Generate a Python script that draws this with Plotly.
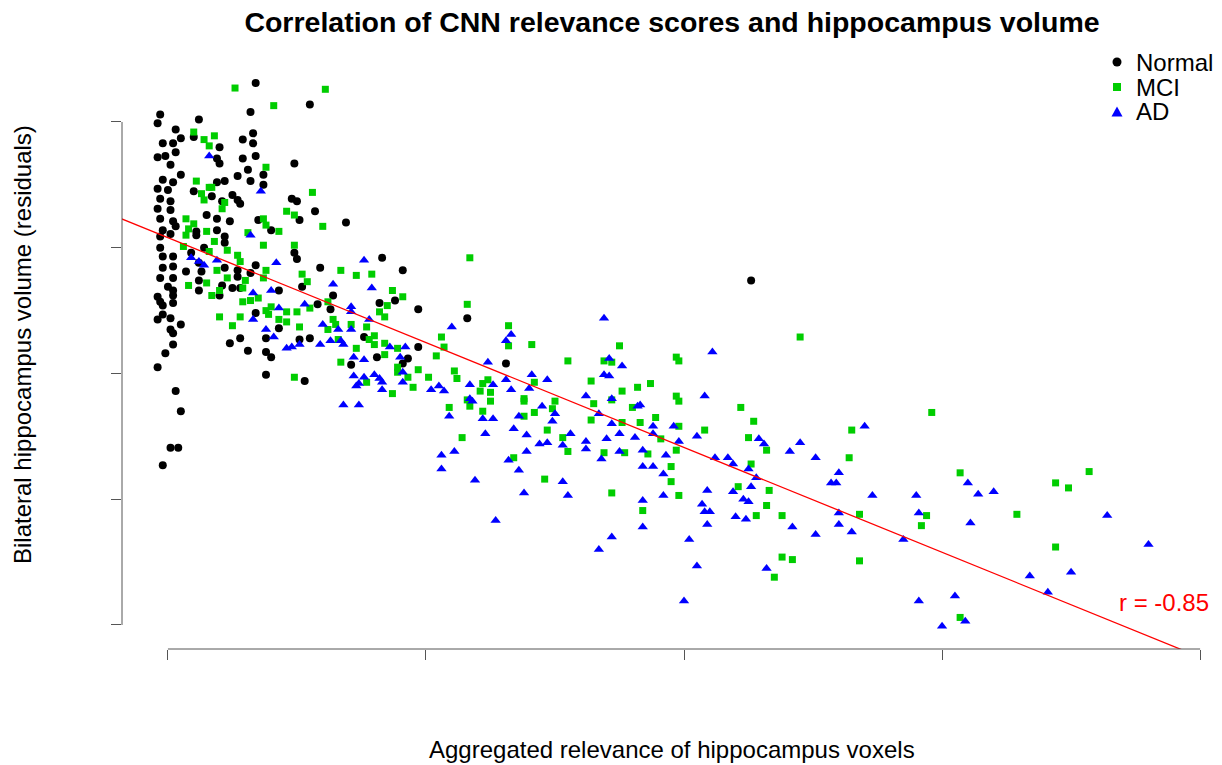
import plotly.graph_objects as go

# ---------------- data (axis units = tick spacing) ----------------
normal_x = [0.34, 0.32, -0.03, -0.04, 0.12, 0.03, 0.05, 0.02, -0.02, 0.10, 0.33, 0.29, 0.33, 0.20, 0.03, -0.01,
            -0.04, 0.01, 0.19, 0.20, 0.29, 0.34, 0.31, 0.37, 0.27, 0.32, 0.22, 0.19, -0.02, 0.02, 0.05, 0.37,
            0.10, -0.04, 0.00, -0.03, 0.01, 0.25, 0.27, 0.28, 0.17, 0.21, -0.04, 0.01, -0.03, 0.02, 0.15, 0.19,
            0.24, 0.35, 0.40, -0.02, 0.03, 0.11, 0.19,
            0.55, 0.49, 0.48, 0.50, 0.57, 0.51, 0.69,
            -0.03, 0.01, 0.11, 0.22, 0.22, -0.03, -0.02, 0.02, 0.09, 0.14, 0.12, -0.02, 0.02, 0.07, 0.13, 0.22,
            -0.03, 0.02, 0.12, 0.27, 0.27, 0.34, 0.32, 0.21, 0.25, 0.00, 0.02, 0.12, 0.20, 0.28, -0.04, 0.02,
            -0.03, 0.02, -0.02, 0.34, 0.43, 0.43, 0.01, -0.04, -0.02, 0.05, 0.01, 0.02, 0.28, 0.24, 0.38, 0.02,
            -0.01, 0.31, 0.38, 0.40, -0.04, 0.38, 0.03, 0.05, 0.01, 0.04, -0.02,
            0.49, 0.50, 0.59, 0.83, 0.91, 0.52, 0.64, 0.58, 0.63, 0.82, 0.88, 0.97, 0.51, 0.55, 0.76, 0.97,
            0.81, 0.93, 0.71, 0.91, 0.53,
            1.16, 1.31, 2.26]
normal_y = [4.31, 4.08, 4.06, 3.99, 4.02, 3.94, 3.87, 3.83, 3.83, 3.88, 3.91, 3.86, 3.83, 3.80, 3.76, 3.73,
            3.72, 3.66, 3.71, 3.67, 3.71, 3.73, 3.62, 3.58, 3.57, 3.53, 3.53, 3.52, 3.54, 3.52, 3.58, 3.50,
            3.45, 3.47, 3.46, 3.39, 3.37, 3.42, 3.38, 3.35, 3.41, 3.37, 3.31, 3.30, 3.23, 3.21, 3.26, 3.23,
            3.21, 3.22, 3.14, 3.14, 3.17, 3.13, 3.14,
            4.14, 3.67, 3.39, 3.37, 3.29, 3.22, 3.20,
            3.09, 3.11, 3.10, 3.09, 3.04, 3.00, 2.93, 2.93, 2.96, 3.00, 2.88, 2.84, 2.85, 2.81, 2.81, 2.84,
            2.76, 2.76, 2.74, 2.82, 2.77, 2.86, 2.80, 2.70, 2.68, 2.69, 2.66, 2.66, 2.62, 2.68, 2.61, 2.62,
            2.57, 2.56, 2.54, 2.48, 2.66, 2.36, 2.44, 2.43, 2.47, 2.39, 2.35, 2.32, 2.28, 2.24, 2.28, 2.23,
            2.16, 2.18, 2.17, 2.13, 2.05, 1.99, 1.86, 1.70, 1.41, 1.41, 1.27,
            2.96, 2.91, 2.84, 2.92, 2.82, 2.69, 2.62, 2.55, 2.51, 2.56, 2.58, 2.51, 2.27, 2.28, 2.29, 2.21,
            2.13, 2.12, 2.07, 2.08, 1.94,
            2.44, 2.08, 2.74]

mci_x = [0.26, 0.41, 0.10, 0.14, 0.18, 0.16, 0.38, 0.11, 0.16, 0.17, 0.13, 0.14, 0.22, 0.21, 0.46, 0.37,
         0.38, 0.43, 0.07, 0.10, 0.08, 0.15, 0.31,
         0.61, 0.56, 0.49, 0.60,
         0.07, 0.18, 0.06, 0.16, 0.23, 0.37, 0.27, 0.28, 0.19, 0.23, 0.15, 0.08, 0.30, 0.29, 0.38, 0.37,
         0.20, 0.17, 0.32, 0.29, 0.35, 0.38, 0.40, 0.39, 0.43, 0.46, 0.20, 0.28, 0.25, 0.46,
         0.49, 0.52, 0.54, 0.67, 0.73, 0.79, 0.87, 0.91, 0.85, 0.82, 0.84, 0.62, 0.55, 0.50, 0.51, 0.64,
         0.65, 0.62, 0.71, 0.77, 0.80, 0.78, 0.80, 0.66, 0.73, 0.84, 0.89, 0.84, 0.67, 0.89, 0.89, 0.97,
         0.93, 1.01, 1.04, 0.49, 0.77, 0.95, 0.87, 1.06,
         1.17, 1.16, 1.07, 1.32, 1.32, 1.41, 1.55, 1.75, 1.69, 1.72, 1.11, 1.12, 1.24, 1.22, 1.21, 1.25,
         1.25, 1.16, 1.17, 1.22, 1.09, 1.42, 1.38, 1.38, 1.50, 1.49, 1.42, 1.64, 1.65, 1.76, 1.72, 1.82,
         1.80,
         1.64, 1.76, 1.38, 1.14, 1.47, 1.53, 1.55, 1.69, 1.77, 1.34, 1.46, 1.72,
         2.45, 1.97, 1.98, 1.87, 1.97, 1.98, 2.22, 2.27, 1.89, 1.83, 1.98, 2.08, 1.91, 2.25, 2.32, 1.97,
         1.86,
         1.95, 1.95, 1.98, 1.84, 2.26, 2.21, 2.33, 2.32, 2.28, 2.38, 2.38, 2.42, 2.35,
         2.96, 2.65, 2.64, 3.07, 3.44, 3.49, 3.57, 2.68, 2.94, 2.92, 3.29, 3.44, 2.68, 3.07]
mci_y = [4.27, 4.13, 3.92, 3.86, 3.89, 3.81, 3.64, 3.53, 3.48, 3.48, 3.43, 3.38, 3.36, 3.31, 3.29, 3.23,
         3.18, 3.13, 3.23, 3.19, 3.15, 3.13, 3.12,
         4.26, 3.44, 3.26, 3.17,
         3.10, 3.05, 3.01, 2.97, 2.98, 3.02, 2.94, 2.89, 2.82, 2.76, 2.72, 2.70, 2.74, 2.68, 2.82, 2.76,
         2.66, 2.62, 2.58, 2.57, 2.60, 2.50, 2.53, 2.47, 2.43, 2.41, 2.45, 2.45, 2.38, 2.49,
         3.02, 2.79, 2.73, 2.82, 2.78, 2.79, 2.66, 2.61, 2.54, 2.49, 2.45, 2.57, 2.52, 2.49, 2.37, 2.43,
         2.39, 2.35, 2.39, 2.37, 2.30, 2.27, 2.23, 2.27, 2.20, 2.24, 2.20, 2.15, 2.09, 2.05, 2.01, 2.03,
         1.97, 1.97, 2.14, 1.97, 1.93, 1.89, 1.84, 2.29,
         2.92, 2.55, 2.21, 2.38, 2.22, 2.23, 2.10, 2.22, 2.10, 2.09, 2.02, 1.96, 1.95, 1.92, 1.86, 1.85,
         1.78, 1.79, 1.74, 1.70, 1.73, 1.93, 1.80, 1.78, 1.78, 1.72, 1.69, 1.94, 1.76, 1.86, 1.79, 1.89,
         1.73,
         1.63, 1.61, 1.66, 1.49, 1.55, 1.49, 1.38, 1.37, 1.37, 1.33, 1.16, 1.05,
         2.29, 2.13, 2.10, 1.92, 1.82, 1.78, 1.73, 1.62, 1.65, 1.61, 1.58, 1.55, 1.48, 1.49, 1.39, 1.39,
         1.36,
         1.26, 1.14, 1.03, 0.91, 1.28, 1.10, 1.07, 0.95, 0.87, 0.87, 0.54, 0.52, 0.38,
         1.69, 1.55, 1.33, 1.21, 1.13, 1.09, 1.22, 0.88, 0.87, 0.79, 0.88, 0.62, 0.51, 0.06]

ad_x = [0.16, 0.36,
        0.32, 0.09, 0.12, 0.14, 0.19, 0.42, 0.33, 0.40, 0.43, 0.33, 0.38, 0.41,
        0.76, 0.64, 0.79, 0.53, 0.71, 0.71, 0.78, 0.60, 0.66, 0.71, 0.63, 0.67, 0.68, 0.59, 0.51, 0.48,
        0.46, 0.86, 0.92, 0.90, 0.72, 0.76, 0.72, 0.76, 0.80, 0.82, 0.74, 0.73, 0.91, 0.83, 0.83, 1.02,
        1.05, 0.91, 0.68, 0.74,
        1.10, 1.33, 1.31, 1.24, 1.69, 1.71, 1.76, 1.69, 1.71, 1.41, 1.47, 1.31, 1.26, 1.17, 1.33, 1.40,
        1.07, 1.17, 1.18, 1.62, 1.72, 1.45, 1.50, 1.67, 1.82, 1.09, 1.22, 1.26, 1.36,
        1.49, 1.72, 1.23, 1.34, 1.39, 1.56, 1.44, 1.47, 1.53, 1.62, 1.62, 1.70, 1.75, 1.81, 1.75, 1.68,
        1.06, 1.11, 1.39, 1.32, 1.36, 1.06, 1.19, 1.53, 1.55, 1.38, 1.27, 1.72, 1.67,
        2.11, 2.08, 1.83, 1.88, 1.88, 1.96, 1.98, 2.05, 2.29, 2.31, 2.45, 2.41, 1.84, 1.93, 2.51, 2.12,
        2.17,
        1.84, 1.88, 1.92, 2.19, 2.25, 2.28, 2.60, 2.57, 2.59, 2.09, 1.92, 1.84, 2.19, 2.26, 2.23, 2.25,
        2.07, 2.08, 2.10, 2.09, 2.20, 2.24, 2.42, 2.51, 2.60, 2.60, 1.84, 2.02, 2.05, 2.32, 2.00,
        2.70, 3.10, 3.14, 3.20, 2.73, 2.90, 2.91, 3.11, 2.65, 2.85, 3.64, 3.80, 3.34, 3.50, 3.41, 2.91,
        3.05, 3.00, 3.09]
ad_y = [3.73, 3.45,
        3.10, 2.92, 2.89, 2.86, 2.90, 2.88, 2.64, 2.66, 2.52, 2.43, 2.35, 2.29,
        2.90, 2.71, 2.68, 2.55, 2.53, 2.49, 2.43, 2.39, 2.35, 2.35, 2.26, 2.26, 2.23, 2.23, 2.23, 2.21,
        2.20, 2.21, 2.21, 2.13, 2.13, 2.11, 1.98, 1.97, 1.99, 1.96, 1.92, 1.90, 1.93, 1.93, 1.87, 1.87,
        1.90, 2.01, 1.75, 1.75,
        2.37, 2.31, 2.26, 2.09, 2.44, 2.12, 2.06, 1.99, 1.98, 1.99, 1.95, 1.95, 1.91, 1.91, 1.87, 1.88,
        1.86, 1.80, 1.78, 1.82, 1.80, 1.74, 1.68, 1.68, 1.74, 1.66, 1.64, 1.64, 1.66,
        1.62, 1.60, 1.52, 1.56, 1.51, 1.52, 1.44, 1.45, 1.43, 1.46, 1.40, 1.48, 1.52, 1.49, 1.38, 1.32,
        1.35, 1.38, 1.38, 1.31, 1.23, 1.24, 1.15, 1.14, 1.03, 1.05, 0.83, 0.70, 0.60,
        2.17, 1.82, 1.75, 1.58, 1.52, 1.58, 1.46, 1.50, 1.48, 1.44, 1.45, 1.38, 1.39, 1.35, 1.33, 1.33,
        1.33,
        1.26, 1.26, 1.20, 1.28, 1.24, 1.17, 1.21, 1.13, 1.13, 1.07, 1.03, 0.99, 1.06, 1.10, 1.00, 0.98,
        0.96, 0.90, 0.90, 0.80, 0.86, 0.84, 0.78, 0.72, 0.89, 0.80, 0.78, 0.68, 0.47, 0.45, 0.19,
        1.58, 1.13, 1.04, 1.06, 1.03, 1.03, 0.89, 0.81, 0.74, 0.68, 0.87, 0.64, 0.39, 0.42, 0.26, 0.19,
        0.23, -0.01, 0.03]

fit_intercept = 3.08
fit_slope = -0.834
r_label = "r = -0.85"

group_names = ["Normal", "MCI", "AD"]
group_colors = ["#000000", "#00CD00", "#0000FF"]
tick_vals_x = [0, 1, 2, 3, 4]
tick_vals_y = [0, 1, 2, 3, 4]

# ---------------- figure ----------------
FONT = "Liberation Sans, Arial, Helvetica, sans-serif"
W, H = 1222, 765
ML, MR, MT, MB = 122, 1, 62, 116
PW, PH = W - ML - MR, H - MT - MB

def px_to_paper_x(sx):  # screen x -> paper x
    return (sx - ML) / PW

def px_to_paper_y(sy):  # screen y -> paper y
    return (H - MB - sy) / PH

fig = go.Figure()
fig.add_trace(go.Scatter(x=normal_x, y=normal_y, mode="markers", name=group_names[0], showlegend=False,
                         marker=dict(symbol="circle", size=8, color=group_colors[0], line=dict(width=0))))
fig.add_trace(go.Scatter(x=mci_x, y=mci_y, mode="markers", name=group_names[1], showlegend=False,
                         marker=dict(symbol="square", size=7, color=group_colors[1], line=dict(width=0))))
fig.add_trace(go.Scatter(x=ad_x, y=ad_y, mode="markers", name=group_names[2], showlegend=False,
                         marker=dict(symbol="triangle-up", size=9, color=group_colors[2], line=dict(width=0))))

line_x = [-0.3, 4.3]
line_y = [fit_intercept + fit_slope * v for v in line_x]
fig.add_trace(go.Scatter(x=line_x, y=line_y, mode="lines", showlegend=False,
                         line=dict(color="#FF0000", width=1.3), hoverinfo="skip"))

axis_col = "#555555"
fig.update_xaxes(range=[-0.178, 4.081], showgrid=False, zeroline=False, showline=False,
                 tickvals=tick_vals_x, ticks="outside", ticklen=10, tickwidth=1, tickcolor=axis_col,
                 showticklabels=False)
fig.update_yaxes(range=[-0.191, 4.477], showgrid=False, zeroline=False, showline=False,
                 tickvals=tick_vals_y, ticks="outside", ticklen=10, tickwidth=1, tickcolor=axis_col,
                 showticklabels=False)

# R-style axis lines spanning only first..last tick
fig.add_shape(type="line", xref="x", yref="paper", x0=tick_vals_x[0], x1=tick_vals_x[-1], y0=0, y1=0,
              line=dict(color=axis_col, width=1))
fig.add_shape(type="line", xref="paper", yref="y", x0=0, x1=0, y0=tick_vals_y[0], y1=tick_vals_y[-1],
              line=dict(color=axis_col, width=1))

fig.add_annotation(x=3.86, y=0.18, xref="x", yref="y", text=r_label, showarrow=False,
                   xanchor="center", yanchor="middle",
                   font=dict(family=FONT, size=24, color="#FF0000"))

# axis titles
fig.add_annotation(x=px_to_paper_x(672), y=px_to_paper_y(749), xref="paper", yref="paper",
                   xanchor="center", yanchor="middle",
                   text="Aggregated relevance of hippocampus voxels",
                   showarrow=False, font=dict(family=FONT, size=24, color="black"))
fig.add_annotation(xref="paper", yref="paper", x=px_to_paper_x(22), y=px_to_paper_y(345),
                   xanchor="center", yanchor="middle",
                   text="Bilateral hippocampus volume (residuals)", textangle=-90, showarrow=False,
                   font=dict(family=FONT, size=24, color="black"))

# manual R-style legend (no box)
leg_sym_x = px_to_paper_x(1117)
leg_txt_x = px_to_paper_x(1134)
leg_rows = [62, 87, 112]
for i, (name, col) in enumerate(zip(group_names, group_colors)):
    yy = px_to_paper_y(leg_rows[i])
    fig.add_annotation(x=leg_txt_x, y=yy, xref="paper", yref="paper", text=name, showarrow=False,
                       xanchor="left", yanchor="middle", font=dict(family=FONT, size=24, color="black"))
    common = dict(xref="paper", yref="paper", xsizemode="pixel", ysizemode="pixel",
                  xanchor=leg_sym_x, yanchor=yy, fillcolor=col, line=dict(width=0))
    if name == "Normal":
        fig.add_shape(type="circle", x0=-4.5, x1=4.5, y0=-4.5, y1=4.5, **common)
    elif name == "MCI":
        fig.add_shape(type="rect", x0=-4, x1=4, y0=-4, y1=4, **common)
    else:
        fig.add_shape(type="path", path="M -5.5 -4.5 L 5.5 -4.5 L 0 5.5 Z", **common)

fig.update_layout(
    width=W, height=H,
    margin=dict(l=ML, r=MR, t=MT, b=MB),
    plot_bgcolor="white", paper_bgcolor="white",
    font=dict(family=FONT, color="black"),
    title=dict(text="<b>Correlation of CNN relevance scores and hippocampus volume</b>",
               x=672 / W, xanchor="center", xref="container",
               y=1 - 22 / H, yanchor="middle", yref="container",
               font=dict(family=FONT, size=28.5, color="black")),
    showlegend=False,
    hovermode=False,
)

# remove the default 8px page margin so the figure fills the 1222x765 window exactly
fig.write_html("out.html", config={"displayModeBar": False, "staticPlot": True},
               post_script="document.body.style.margin='0px';document.body.style.overflow='hidden';")
